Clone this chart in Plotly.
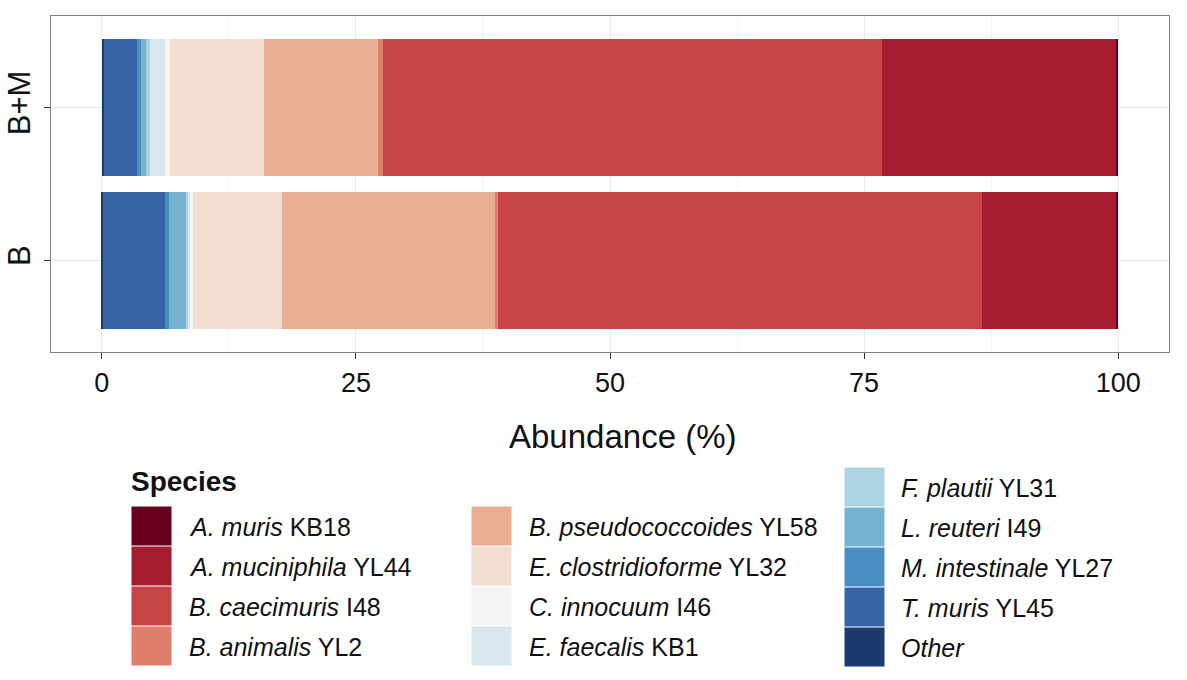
import plotly.graph_objects as go

# ---------------- data ----------------
groups = ["B", "B+M"]
species = ["Other", "T. muris YL45", "M. intestinale YL27", "L. reuteri I49",
           "F. plautii YL31", "E. faecalis KB1", "C. innocuum I46",
           "E. clostridioforme YL32", "B. pseudococcoides YL58", "B. animalis YL2",
           "B. caecimuris I48", "A. muciniphila YL44", "A. muris KB18"]
italic_part = ["Other", "T. muris", "M. intestinale", "L. reuteri", "F. plautii",
               "E. faecalis", "C. innocuum", "E. clostridioforme",
               "B. pseudococcoides", "B. animalis", "B. caecimuris",
               "A. muciniphila", "A. muris"]
strain_part = ["", "YL45", "YL27", "I49", "YL31", "KB1", "I46", "YL32", "YL58",
               "YL2", "I48", "YL44", "KB18"]
# abundance (%) per species, for groups [B, B+M]
abund_B = [0.15, 6.10, 0.33, 1.74, 0.20, 0.15, 0.30, 8.74, 20.98, 0.33, 47.59, 13.24, 0.15]
abund_BM = [0.20, 3.30, 0.35, 0.50, 0.40, 1.50, 0.50, 9.17, 11.30, 0.43, 49.10, 23.10, 0.15]
colors = ["#1C3A6B", "#3565A6", "#4A8DC1", "#76B3D1", "#AAD3E4", "#D8E7F0", "#F5F5F5",
          "#F2DFD1", "#E9AF95", "#DF7F6B", "#C64446", "#A51C2F", "#67001F"]
x_ticks = [0, 25, 50, 75, 100]
x_minor = [12.5, 37.5, 62.5, 87.5]

# legend columns (order as displayed)
legend_cols = [
    ["A. muris KB18", "A. muciniphila YL44", "B. caecimuris I48", "B. animalis YL2"],
    ["B. pseudococcoides YL58", "E. clostridioforme YL32", "C. innocuum I46", "E. faecalis KB1"],
    ["F. plautii YL31", "L. reuteri I49", "M. intestinale YL27", "T. muris YL45", "Other"],
]

FONT = "Liberation Sans, Arial, Helvetica, sans-serif"
W_PX, H_PX = 1187, 680
L, R, T, B = 51, 1169, 16, 352

fig = go.Figure()
for i, sp in enumerate(species):
    fig.add_trace(go.Bar(
        y=groups, x=[abund_B[i], abund_BM[i]], orientation="h",
        name=sp, marker=dict(color=colors[i], line=dict(width=0)),
        width=0.9, showlegend=False))

def px2x(px):
    return (px - L) / (R - L)

def py2y(py):
    return (B - py) / (B - T)

shapes, annots = [], []
col_x = [131.5, 471.5, 844.5]
col_top = [506.5, 506.5, 467.5]
sw_w, sw_h, pitch = 40, 39, 40
for c, items in enumerate(legend_cols):
    for r, sp in enumerate(items):
        k = species.index(sp)
        x0 = col_x[c]
        y0 = col_top[c] + r * pitch
        shapes.append(dict(type="rect", xref="paper", yref="paper",
                           x0=px2x(x0), x1=px2x(x0 + sw_w),
                           y0=py2y(y0 + sw_h), y1=py2y(y0),
                           fillcolor=colors[k], line=dict(width=0), layer="above"))
        label = f"<i>{italic_part[k]}</i>" + (f" {strain_part[k]}" if strain_part[k] else "")
        annots.append(dict(xref="paper", yref="paper", x=px2x(x0 + 55),
                           y=py2y(y0 + sw_h / 2 + 1), text=label, showarrow=False,
                           xanchor="left", yanchor="middle",
                           font=dict(family=FONT, size=25, color="#111111")))

annots.append(dict(xref="paper", yref="paper", x=px2x(129), y=py2y(481),
                   text="<b>Species</b>", showarrow=False, xanchor="left",
                   yanchor="middle", font=dict(family=FONT, size=28, color="#111111")))
annots.append(dict(xref="paper", yref="paper", x=px2x(622), y=py2y(436),
                   text="Abundance (%)", showarrow=False, xanchor="center",
                   yanchor="middle", font=dict(family=FONT, size=33, color="#111111")))

fig.update_layout(
    width=W_PX, height=H_PX,
    margin=dict(l=L, r=W_PX - R, t=T, b=H_PX - B, autoexpand=False),
    barmode="stack", bargap=0.1,
    plot_bgcolor="white", paper_bgcolor="white",
    font=dict(family=FONT, color="#111111"),
    shapes=shapes, annotations=annots,
)
fig.update_xaxes(
    range=[-5, 105], tickvals=x_ticks, ticktext=[str(v) for v in x_ticks],
    showgrid=True, gridcolor="#EBEBEB", gridwidth=1.1,
    minor=dict(tickvals=x_minor, showgrid=True, gridcolor="#F4F4F4", gridwidth=0.6, ticks=""),
    showline=True, mirror=True, linecolor="#7F7F7F", linewidth=1.2,
    ticks="outside", ticklen=6, tickwidth=1.4, tickcolor="#333333",
    tickfont=dict(size=27, color="#111111"), zeroline=False,
)
fig.update_yaxes(
    categoryorder="array", categoryarray=groups, range=[-0.6, 1.6],
    showgrid=True, gridcolor="#EBEBEB", gridwidth=1.1,
    showline=True, mirror=True, linecolor="#7F7F7F", linewidth=1.2,
    ticks="outside", ticklen=6, tickwidth=1.4, tickcolor="#333333",
    tickangle=-90, tickfont=dict(size=31, color="#111111"), zeroline=False,
    ticklabelstandoff=2,
)

fig.write_html("out.html")
